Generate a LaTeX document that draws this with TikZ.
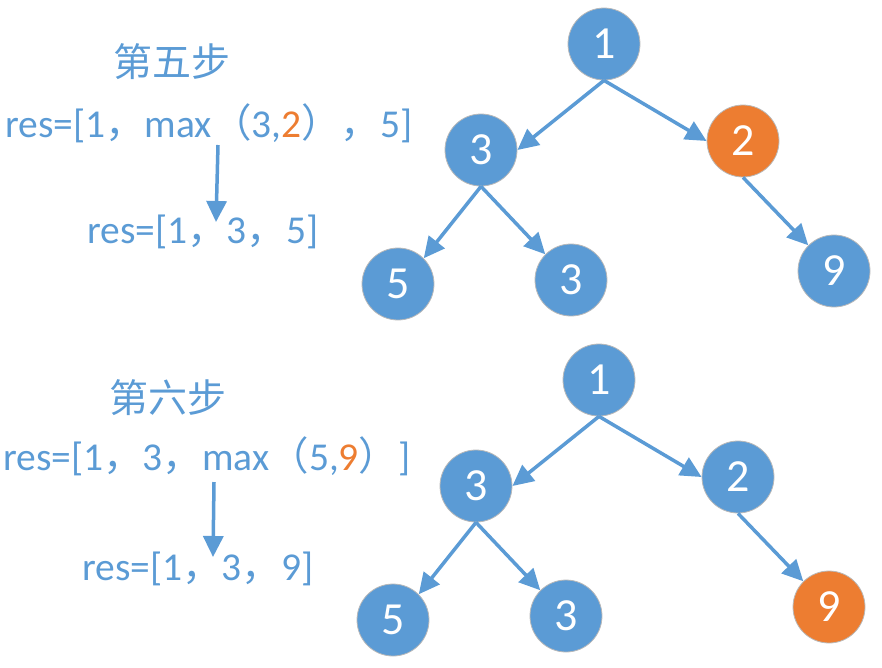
\documentclass[tikz,border=0pt]{standalone}
\usepackage{fontspec}
\setmainfont{Carlito}
\newfontfamily\cjk{Noto Sans CJK SC}
\usetikzlibrary{arrows.meta}
\definecolor{nblue}{HTML}{5B9BD5}
\definecolor{norange}{HTML}{ED7D31}
\tikzset{
  tnode/.style={circle, fill=nblue, draw=gray!55, line width=0.8pt, minimum size=72pt, inner sep=0pt, text=white, font=\fontsize{46}{46}\selectfont},
  onode/.style={tnode, fill=norange},
  tarrow/.style={draw=nblue, line width=3.5pt, -{Triangle[length=21pt,width=20pt]}},
  lbl/.style={anchor=base west, inner sep=0pt, text=nblue, font=\fontsize{39.5}{44}\selectfont},
  ttl/.style={inner sep=0pt, text=nblue, font=\cjk\fontsize{39}{44}\selectfont},
}
\newcommand{\fw}[1]{{\cjk #1}}
\begin{document}
\begin{tikzpicture}[x=1pt,y=-1pt]
\path[use as bounding box] (0,0) rectangle (882,667);
% ---- step 5 ----
\node[ttl] (h1) at (172,62) {第五步};
\node[lbl] (r1) at (5,137) {res=[1\fw{，}max\fw{（}3,\textcolor{norange}{2}\fw{）}\fw{，}5]};
\node[lbl] (s1) at (87,243) {res=[1\fw{，}3\fw{，}5]};
\coordinate (a1s) at (218,145);
\coordinate (a1e) at (216,222);
\draw[tarrow] (a1s) -- (a1e);
\node[tnode] (A1) at (604,44) {1};
\node[tnode] (A3) at (481,150) {3};
\node[onode] (A2) at (743,141) {2};
\node[tnode] (A5) at (398,284) {5};
\node[tnode] (A3b) at (571,280) {3};
\node[tnode] (A9) at (834,271) {9};
\draw[tarrow] (A1.south) -- (A3.east);
\draw[tarrow] (A1.south) -- (A2.west);
\draw[tarrow] (A3.south) -- (A5.north east);
\draw[tarrow] (A3.south) -- (A3b.north west);
\draw[tarrow] (A2.south) -- (A9.north west);
% ---- step 6 ----
\node[ttl] (h2) at (168,398) {第六步};
\node[lbl] (r2) at (3,470) {res=[1\fw{，}3\fw{，}max\fw{（}5,\textcolor{norange}{9}\fw{）}]};
\node[lbl] (s2) at (82,580) {res=[1\fw{，}3\fw{，}9]};
\coordinate (a2s) at (214,482);
\coordinate (a2e) at (213,557);
\draw[tarrow] (a2s) -- (a2e);
\node[tnode] (B1) at (599,380) {1};
\node[tnode] (B3) at (476,486) {3};
\node[tnode] (B2) at (738,477) {2};
\node[tnode] (B5) at (393,620) {5};
\node[tnode] (B3b) at (566,616) {3};
\node[onode] (B9) at (829,607) {9};
\draw[tarrow] (B1.south) -- (B3.east);
\draw[tarrow] (B1.south) -- (B2.west);
\draw[tarrow] (B3.south) -- (B5.north east);
\draw[tarrow] (B3.south) -- (B3b.north west);
\draw[tarrow] (B2.south) -- (B9.north west);
\end{tikzpicture}
\end{document}
